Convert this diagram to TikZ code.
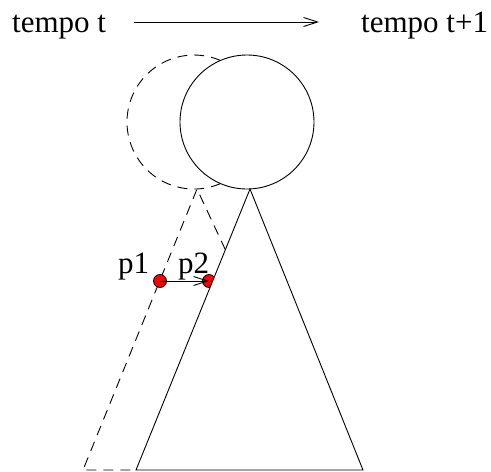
\documentclass[tikz,border=0pt]{standalone}
\usepackage{fontspec}
\setmainfont{Liberation Serif}
\usetikzlibrary{arrows.meta}
\begin{document}
\begin{tikzpicture}[x=1pt,y=-1pt,
  lbl/.style={inner sep=0pt,anchor=base west,font=\fontsize{31}{31}\selectfont},
  dsh/.style={dash pattern=on 10pt off 7pt,line width=0.9pt},
  sol/.style={line width=0.9pt},
  arr/.style={-{Straight Barb[length=14pt,width=9pt,line width=0.9pt]},line width=0.9pt},
  rdot/.style={circle,fill=red,draw=black,line width=0.8pt,minimum size=13pt,inner sep=0pt}]
\useasboundingbox (0,0) rectangle (491,472);
% text and time arrow
\node[lbl] (t0) at (12,32) {tempo t};
\node[lbl] (t1) at (361,32) {tempo t+1};
\coordinate (a0) at (134,22);
\coordinate (a1) at (319,22);
\draw[arr] (a0) -- (a1);
% coordinates
\coordinate (cs) at (247,122);
\coordinate (cd) at (194,122);
\coordinate (top) at (220.5,60.5);
\coordinate (apex) at (250,189);
\coordinate (bl) at (136,470);
\coordinate (br) at (363,470);
\coordinate (dapex) at (197,189);
\coordinate (dbl) at (83,470);
\coordinate (dx) at (225.5,250);
% dashed circle arc (left part)
\draw[dsh] (top) arc[start angle=-66.7,end angle=-293.3,radius=67];
% solid circle
\draw[sol] (cs) circle[radius=67];
% dashed triangle
\draw[dsh] (dx) -- (dapex) -- (dbl) -- (bl);
% points
\node[rdot] (p1) at (160,281) {};
\node[rdot] (p2) at (209,281) {};
% solid triangle
\filldraw[sol,fill=white] (apex) -- (bl) -- (br) -- cycle;
\draw[arr] (p1.center) -- (p2.center);
\node[lbl] (l1) at (118,273) {p1};
\node[lbl] (l2) at (178,273) {p2};
\end{tikzpicture}
\end{document}
